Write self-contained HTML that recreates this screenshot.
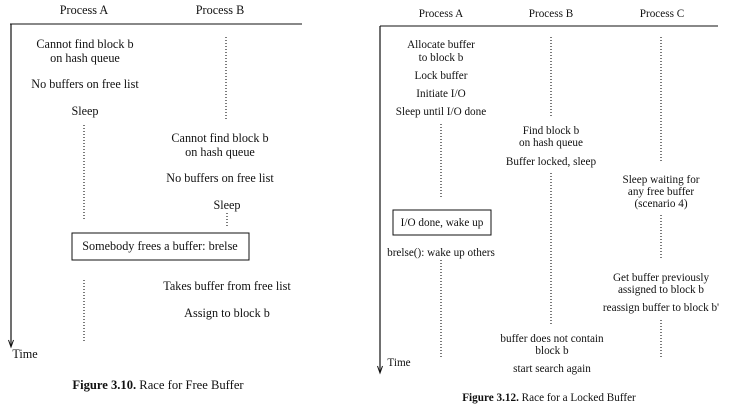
<!DOCTYPE html>
<html><head><meta charset="utf-8"><style>
html,body{margin:0;padding:0;background:#fff;}
svg text{font-family:"Liberation Serif",serif;font-size:12.2px;fill:#111;text-anchor:middle;}
svg .r text{font-size:11.2px;}
</style></head><body>
<svg width="736" height="411" xmlns="http://www.w3.org/2000/svg">
<g stroke="#111" fill="none">
<line x1="10" y1="24" x2="302" y2="24" stroke-width="1"/>
<line x1="11" y1="24" x2="11" y2="346" stroke-width="1.2"/>
<path d="M8.5 340 L11 347 L13.5 340" stroke-width="1"/>
<rect x="72" y="233" width="177" height="27" stroke-width="1"/>
<line x1="380" y1="26" x2="718" y2="26"/>
<line x1="380" y1="26" x2="380" y2="372" stroke-width="1.2"/>
<path d="M377.5 366 L380 373 L382.5 366" stroke-width="1"/>
<rect x="393" y="210" width="98" height="25"/>
</g>
<g stroke="#222" stroke-width="1.2" stroke-dasharray="1,2">
<line x1="226" y1="37" x2="226" y2="119"/>
<line x1="84" y1="125" x2="84" y2="220"/>
<line x1="227" y1="213" x2="227" y2="228"/>
<line x1="84" y1="280" x2="84" y2="342"/>
<line x1="441" y1="124" x2="441" y2="198"/>
<line x1="441" y1="260" x2="441" y2="357"/>
<line x1="551" y1="37" x2="551" y2="118"/>
<line x1="551" y1="173" x2="551" y2="326"/>
<line x1="661" y1="37" x2="661" y2="162"/>
<line x1="661" y1="215" x2="661" y2="258"/>
<line x1="661" y1="320" x2="661" y2="357"/>
</g>
<text x="84" y="14">Process A</text>
<text x="220" y="14">Process B</text>
<text x="85" y="48">Cannot find block b</text>
<text x="85" y="62">on hash queue</text>
<text x="85" y="88">No buffers on free list</text>
<text x="85" y="115">Sleep</text>
<text x="220" y="142">Cannot find block b</text>
<text x="220" y="156">on hash queue</text>
<text x="220" y="182">No buffers on free list</text>
<text x="227" y="209">Sleep</text>
<text x="160" y="250">Somebody frees a buffer: brelse</text>
<text x="227" y="290">Takes buffer from free list</text>
<text x="227" y="317">Assign to block b</text>
<text x="25" y="358">Time</text>
<text x="158" y="389" style="font-size:12.6px"><tspan font-weight="bold">Figure 3.10.</tspan>  Race for Free Buffer</text>
<g class="r">
<text x="441" y="17">Process A</text>
<text x="551" y="17">Process B</text>
<text x="662" y="17">Process C</text>
<text x="441" y="48">Allocate buffer</text>
<text x="441" y="61">to block b</text>
<text x="441" y="79">Lock buffer</text>
<text x="441" y="97">Initiate I/O</text>
<text x="441" y="115">Sleep until I/O done</text>
<text x="442" y="226">I/O done, wake up</text>
<text x="441" y="256">brelse(): wake up others</text>
<text x="551" y="134">Find block b</text>
<text x="551" y="146">on hash queue</text>
<text x="551" y="165">Buffer locked, sleep</text>
<text x="552" y="342">buffer does not contain</text>
<text x="552" y="354">block b</text>
<text x="552" y="372">start search again</text>
<text x="661" y="183">Sleep waiting for</text>
<text x="661" y="195">any free buffer</text>
<text x="661" y="207">(scenario 4)</text>
<text x="661" y="281">Get buffer previously</text>
<text x="661" y="293">assigned to block b</text>
<text x="661" y="311">reassign buffer to block b'</text>
<text x="399" y="366">Time</text>
<text x="549" y="401"><tspan font-weight="bold">Figure 3.12.</tspan>  Race for a Locked Buffer</text>
</g>
</svg>
</body></html>
